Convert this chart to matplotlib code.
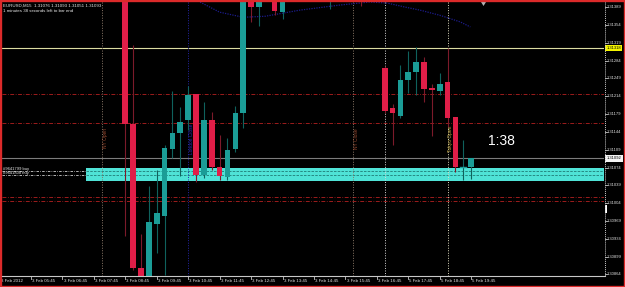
import matplotlib
matplotlib.use("Agg")
import matplotlib.pyplot as plt
from matplotlib.patches import Rectangle, Polygon
import matplotlib.transforms as mtransforms

W, H = 625, 287

# ---------------- data ----------------
bar_k = [0, 1, 2, 3, 4, 5, 6, 7, 8, 9, 10, 11, 12, 13, 14, 15, 16, 17, 19, 20, 26, 30,
         33, 34, 35, 36, 37, 38, 39, 40, 41, 42, 43, 44]
opens = [1.31480, 1.31160, 1.30877, 1.30850, 1.30963, 1.30979, 1.31110, 1.31142, 1.31167, 1.31218,
         1.31059, 1.31167, 1.31075, 1.31055, 1.31110, 1.31181, 1.31430, 1.31389, 1.31430, 1.31379,
         1.31410, 1.31440,
         1.31269, 1.31191, 1.31175, 1.31246, 1.31261, 1.31281, 1.31230, 1.31224, 1.31242, 1.31173,
         1.31075, 1.31076]
highs = [1.31500, 1.31314, 1.30944, 1.31038, 1.31069, 1.31118, 1.31224, 1.31193, 1.31234, 1.31218,
         1.31203, 1.31183, 1.31138, 1.31132, 1.31195, 1.31440, 1.31450, 1.31440, 1.31450, 1.31440,
         1.31450, 1.31450,
         1.31273, 1.31199, 1.31275, 1.31303, 1.31311, 1.31291, 1.31238, 1.31260, 1.31309, 1.31173,
         1.31128, 1.31093]
lows = [1.30940, 1.30872, 1.30835, 1.30830, 1.30906, 1.30863, 1.31093, 1.31057, 1.31148, 1.31046,
        1.31053, 1.31069, 1.31049, 1.31049, 1.31104, 1.31152, 1.31360, 1.31352, 1.31373, 1.31365,
        1.31385, 1.31391,
        1.31181, 1.31118, 1.31171, 1.31220, 1.31216, 1.31203, 1.31136, 1.31216, 1.31154, 1.31065,
        1.31049, 1.31051]
closes = [1.31159, 1.30877, 1.30850, 1.30967, 1.30985, 1.31112, 1.31142, 1.31163, 1.31216, 1.31059,
          1.31167, 1.31075, 1.31057, 1.31108, 1.31181, 1.31420, 1.31389, 1.31420, 1.31381, 1.31430,
          1.31440, 1.31410,
          1.31185, 1.31181, 1.31246, 1.31261, 1.31281, 1.31228, 1.31227, 1.31238, 1.31171, 1.31075,
          1.31077, 1.31093]

price_ticks = [1.31389, 1.31354, 1.31319, 1.31284, 1.31249, 1.31214, 1.31179, 1.31144, 1.31109,
               1.31074, 1.31039, 1.31004, 1.30969, 1.30934, 1.30899, 1.30864]
time_tick_k = [-16, -12, -8, -4, 0, 4, 8, 12, 16, 20, 24, 28, 32, 36, 40, 44]
time_tick_labels = ["3 Feb 2012", "3 Feb 05:45", "3 Feb 06:45", "3 Feb 07:45", "3 Feb 08:45",
                    "3 Feb 09:45", "3 Feb 10:45", "3 Feb 11:45", "3 Feb 12:45", "3 Feb 13:45",
                    "3 Feb 14:45", "3 Feb 15:45", "3 Feb 16:45", "5 Feb 17:45", "5 Feb 18:45",
                    "5 Feb 19:45"]

# moving-average style dotted curve
ma_k = [9.0, 9.5, 12.0, 15.0, 17.8, 22.2, 27.3, 31.1, 33.3, 35.6, 37.5, 40.0, 42.6, 43.9]
ma_p = [1.31405, 1.31399, 1.31379, 1.31369, 1.31371, 1.31383, 1.31393, 1.31399, 1.31397,
        1.31389, 1.31383, 1.31373, 1.31360, 1.31350]

red_levels = [1.31218, 1.31161, 1.31016, 1.31008]
yellow_level = 1.31309
yellow_label = "1.31318"
bid_level = 1.31092
bid_label = "1.31092"
band_top, band_bot = 1.31073, 1.31048
band_start_k = -4.95
order_levels = [1.31067, 1.31060]
order_labels = ["#9641799 buy", "#9641808 buy"]

vlines_k = [-3, 8, 29, 33, 41]
vline_colors = ["#8a7868", "#2626a8", "#8a7868", "#d8d8d8", "#e0dcc0"]
vline_text = ["NY Open", "London Close", "NY Close", None, "Tokyo Open"]
vline_text_colors = ["#9a4a30", "#2a2ab4", "#9a4a30", None, "#c8ac48"]

header1 = "EURUSD,M15  1.31076 1.31093 1.31051 1.31093"
header2 = "1 minutes 38 seconds left to bar end"
timer = "1:38"

# ---------------- figure ----------------
BULL, BEAR = "#1b9d97", "#e01e48"
BULL_W, BEAR_W = "#0f625d", "#7c1a2a"
SMALL = "Liberation Sans"

fig = plt.figure(figsize=(W / 100, H / 100), dpi=100, facecolor="black")
ax = fig.add_axes([2 / W, 1 - 276 / H, 602 / W, 274 / H])
ax.set_facecolor("black")
x_left = (2 - 125.3) / 7.86
x_right = (604 - 125.3) / 7.86
ax.set_xlim(x_left, x_right)
ax.set_ylim(1.30861, 1.31399)
for s in ax.spines.values():
    s.set_visible(False)
ax.set_xticks([])
ax.set_yticks([])

px = mtransforms.Affine2D().scale(1 / W, -1 / H).translate(0, 1) + fig.transFigure
px_y = mtransforms.blended_transform_factory(px, ax.transData)
k_px = mtransforms.blended_transform_factory(ax.transData, px)

# band
ax.add_patch(Rectangle((band_start_k, band_bot), x_right - band_start_k, band_top - band_bot,
                       facecolor="#4fe2d6", edgecolor="none", zorder=1))
for lvl in order_levels:
    ax.plot([x_left, band_start_k], [lvl, lvl], color="#d0d0d0", lw=0.6,
            ls=(0, (3, 1.5, 0.8, 1.5)), zorder=2)
    ax.plot([band_start_k, x_right], [lvl, lvl], color="#1f7c76", lw=0.6,
            ls=(0, (3, 1.5)), zorder=2)
for lvl, lab in zip(order_levels, order_labels):
    ax.text(x_left + 0.15, lvl + 0.000035, lab, color="#e8e8e8", fontsize=3.0, family=SMALL,
            va="center", ha="left", zorder=3)

# horizontal lines
for lvl in red_levels:
    ax.axhline(lvl, color="#9c1c1c", lw=0.7, ls=(0, (4, 1.6, 0.8, 1.6)), zorder=2)
ax.axhline(yellow_level, color="#dcdca2", lw=0.8, zorder=2)
ax.axhline(bid_level, color="#7c7c7c", lw=0.8, zorder=2)

# vertical lines
for kx, c, t, tc in zip(vlines_k, vline_colors, vline_text, vline_text_colors):
    ax.axvline(kx, color=c, lw=0.7, ls=(0, (1, 1.6)), zorder=2)
    if t:
        ax.text(kx + 0.42, 1.31131, t, color=tc, fontsize=3.5, family=SMALL, rotation=90,
                va="center", ha="center", zorder=3)

# MA curve
ax.plot(ma_k, ma_p, color="#1c1c8c", lw=0.9, ls=(0, (1, 1)), zorder=2, clip_on=True)

# candles
bw = 0.72
for kx, o, h, l, c in zip(bar_k, opens, highs, lows, closes):
    bull = c >= o
    body_c = BULL if bull else BEAR
    wick_c = BULL_W if bull else BEAR_W
    ax.plot([kx, kx], [l, h], color=wick_c, lw=0.8, zorder=4, solid_capstyle="butt")
    lo, hi = min(o, c), max(o, c)
    if hi - lo < 0.00002:
        ax.plot([kx - bw / 2, kx + bw / 2], [o, o], color=body_c, lw=1.0, zorder=5)
    else:
        ax.add_patch(Rectangle((kx - bw / 2, lo), bw, hi - lo, facecolor=body_c,
                               edgecolor="none", zorder=5))

# timer
ax.text(40.0 + (501.5 - 439.7) / 7.86, 1.31127, timer, color="white", fontsize=10,
        family="Liberation Sans", ha="center", va="center", zorder=6)

# header texts
fig.text(3 / W, 1 - 5.5 / H, header1, color="#e8e8e8", fontsize=3.2, family=SMALL,
         va="center", ha="left")
fig.text(3 / W, 1 - 10.5 / H, header2, color="#e8e8e8", fontsize=3.2, family=SMALL,
         va="center", ha="left")

# shift marker at top
fig.add_artist(Polygon([[481 / W, 1 - 2 / H], [486 / W, 1 - 2 / H], [483.5 / W, 1 - 6 / H]],
                       closed=True, transform=fig.transFigure, facecolor="#b0b0b0",
                       edgecolor="none"))

# axes lines
fig.add_artist(plt.Line2D([2 / W, 604.5 / W], [1 - 276 / H, 1 - 276 / H], color="#c8c8c8",
                          lw=0.8, transform=fig.transFigure))
fig.add_artist(plt.Line2D([604.5 / W, 604.5 / W], [1 - 2 / H, 1 - 276 / H], color="#c8c8c8",
                          lw=0.7, ls=(0, (1, 1)), transform=fig.transFigure))

# right price labels
for p in price_ticks:
    ax.plot([604.5, 606.5], [p, p], color="#c8c8c8", lw=0.6, transform=px_y, clip_on=False)
    ax.text(607.0, p, f"{p:.5f}", color="#e0e0e0", fontsize=3.0, family=SMALL,
            va="center", ha="left", transform=px_y, clip_on=False)

# highlighted price boxes
for lvl, lab, fc in [(yellow_level, yellow_label, "#f4f400"), (bid_level, bid_label, "#f4f4f4")]:
    ax.text(606.5, lvl, lab, color="black", fontsize=3.0, family=SMALL, va="center", ha="left",
            transform=px_y, clip_on=False,
            bbox=dict(boxstyle="square,pad=0.3", facecolor=fc, edgecolor="none"))

# small marker on price scale
fig.add_artist(Rectangle((605 / W, 1 - 213 / H), 2 / W, 8 / H, transform=fig.transFigure,
                         facecolor="white", edgecolor="none"))

# time labels
for kx, lab in zip(time_tick_k, time_tick_labels):
    ax.plot([kx, kx], [276, 279], color="#c8c8c8", lw=0.6, transform=k_px, clip_on=False)
    ax.text(kx + 0.15, 280.5, lab, color="#e0e0e0", fontsize=3.2, family=SMALL,
            va="center", ha="left", transform=k_px, clip_on=False)

# red window frame
fig.add_artist(Rectangle((0, 0), 1, 1, transform=fig.transFigure, fill=False,
                         edgecolor="#dc2a2a", lw=2.4))

fig.savefig("out.png", dpi=100, facecolor="black")
